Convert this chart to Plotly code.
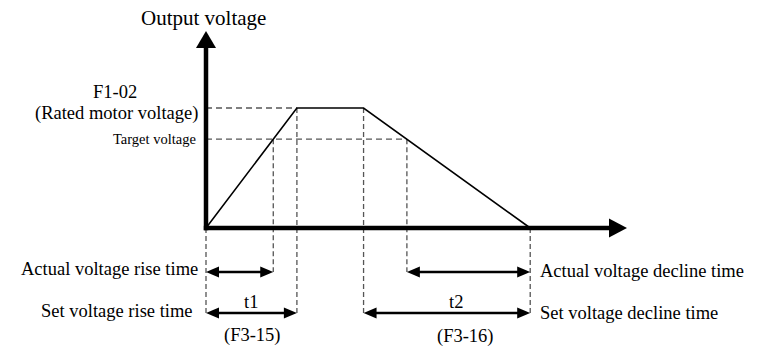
import plotly.graph_objects as go

# Voltage profile (time in arbitrary units, voltage relative to rated)
ramp_time = [0.0, 3.0, 5.2, 10.7]
ramp_volt = [0.0, 1.0, 1.0, 0.0]
rated_volt = 1.0
target_volt = 0.74
actual_rise_end = 2.22      # time the ramp reaches target voltage
actual_decline_start = 6.63  # time the decline passes target voltage

# Pixel scale of the drawing
PX_X = 30.3    # px per time unit
PX_Y = 120.0   # px per voltage unit
W, H = 760, 348
ORIGIN_PX = (206, 228)

x_range = [-ORIGIN_PX[0] / PX_X, (W - ORIGIN_PX[0]) / PX_X]
y_range = [-(H - ORIGIN_PX[1]) / PX_Y, ORIGIN_PX[1] / PX_Y]

FONT = "Liberation Serif, Times New Roman, serif"
DASH_COLOR = "#555555"

fig = go.Figure()


def dashed(xs, ys, dash="6px,4px"):
    fig.add_trace(go.Scatter(x=xs, y=ys, mode="lines", hoverinfo="skip",
                             line=dict(color=DASH_COLOR, width=1.3, dash=dash),
                             showlegend=False))


def tri(tx, ty, direction, length_px, half_px):
    """Filled triangle with its tip at (tx, ty), pointing in direction."""
    if direction in ("left", "right"):
        s = 1 if direction == "right" else -1
        bx = tx - s * length_px / PX_X
        hw = half_px / PX_Y
        pts = [(tx, ty), (bx, ty + hw), (bx, ty - hw)]
    else:
        s = 1 if direction == "up" else -1
        by = ty - s * length_px / PX_Y
        hw = half_px / PX_X
        pts = [(tx, ty), (tx + hw, by), (tx - hw, by)]
    p = "M {} {} L {} {} L {} {} Z".format(*[c for pt in pts for c in pt])
    return dict(type="path", path=p, xref="x", yref="y",
                fillcolor="black", line=dict(width=0), layer="above")


shapes = []

# Horizontal guides at rated and target voltage
dashed([0, ramp_time[1]], [rated_volt, rated_volt])
dashed([0, actual_decline_start], [target_volt, target_volt])

# Dimension-arrow rows
row_actual = -44 / PX_Y
row_set = -85 / PX_Y

# Vertical guides
vdash = "5px,3px"
dashed([ramp_time[0], ramp_time[0]], [0, row_set - 0.02], vdash)
dashed([actual_rise_end, actual_rise_end], [target_volt, row_actual], vdash)
dashed([ramp_time[1], ramp_time[1]], [rated_volt, row_set], vdash)
dashed([ramp_time[2], ramp_time[2]], [rated_volt, row_set], vdash)
dashed([actual_decline_start, actual_decline_start], [target_volt, row_actual], vdash)
dashed([ramp_time[3], ramp_time[3]], [0, row_set - 0.02], vdash)

# Output voltage profile
fig.add_trace(go.Scatter(x=ramp_time, y=ramp_volt, mode="lines",
                         line=dict(color="black", width=1.6),
                         hoverinfo="skip", showlegend=False))

# Axes with arrowheads
x_tip = (627 - ORIGIN_PX[0]) / PX_X
y_tip = (ORIGIN_PX[1] - 31) / PX_Y
shapes.append(dict(type="line", xref="x", yref="y", x0=-2.2 / PX_X, y0=0,
                   x1=x_tip - 14 / PX_X, y1=0,
                   line=dict(color="black", width=4.5), layer="above"))
shapes.append(dict(type="line", xref="x", yref="y", x0=0, y0=-2.2 / PX_Y,
                   x1=0, y1=y_tip - 14 / PX_Y,
                   line=dict(color="black", width=4.5), layer="above"))
shapes.append(tri(x_tip, 0, "right", 18, 9.5))
shapes.append(tri(0, y_tip, "up", 17, 10))


def dim_arrow(t0, t1, yrow):
    head = 13
    shapes.append(dict(type="line", xref="x", yref="y",
                       x0=t0 + (head - 2) / PX_X, y0=yrow,
                       x1=t1 - (head - 2) / PX_X, y1=yrow,
                       line=dict(color="black", width=2.6), layer="above"))
    shapes.append(tri(t0, yrow, "left", head, 5.5))
    shapes.append(tri(t1, yrow, "right", head, 5.5))


dim_arrow(ramp_time[0], actual_rise_end, row_actual)
dim_arrow(ramp_time[0], ramp_time[1], row_set)
dim_arrow(actual_decline_start, ramp_time[3], row_actual)
dim_arrow(ramp_time[2], ramp_time[3], row_set)


def label(text, x, y, size=18.5, xanchor="center"):
    fig.add_annotation(text=text, x=x, y=y, xref="x", yref="y",
                       xanchor=xanchor, yanchor="middle", showarrow=False,
                       font=dict(family=FONT, size=size, color="black"))


def px_x(p):
    return (p - ORIGIN_PX[0]) / PX_X


def px_y(p):
    return (ORIGIN_PX[1] - p) / PX_Y


label("Output voltage", px_x(203), px_y(18), size=21)
label("F1-02", px_x(115), px_y(92))
label("(Rated motor voltage)", px_x(200), px_y(113), xanchor="right")
label("Target voltage", px_x(198), target_volt, size=14.5, xanchor="right")
label("Actual voltage rise time", px_x(200), px_y(269), xanchor="right")
label("Set voltage rise time", px_x(195), px_y(311), xanchor="right")
label("Actual voltage decline time", px_x(538), px_y(271), xanchor="left")
label("Set voltage decline time", px_x(538), px_y(313), xanchor="left")
label("t1", (ramp_time[0] + ramp_time[1]) / 2, px_y(302))
label("t2", px_x(456), px_y(302))
label("(F3-15)", px_x(252), px_y(335))
label("(F3-16)", px_x(465), px_y(336))

fig.update_layout(
    width=W, height=H,
    margin=dict(l=0, r=0, t=0, b=0),
    paper_bgcolor="white", plot_bgcolor="white",
    xaxis=dict(range=x_range, visible=False, fixedrange=True),
    yaxis=dict(range=y_range, visible=False, fixedrange=True),
    shapes=shapes,
    showlegend=False,
)

fig.write_html("out.html")
